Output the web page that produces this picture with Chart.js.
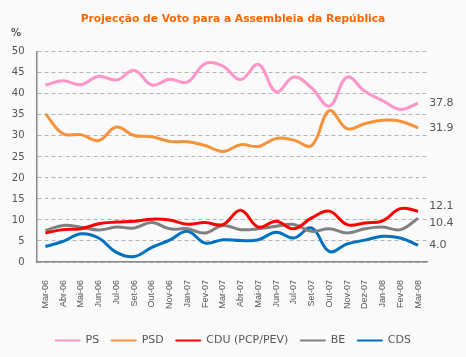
<!DOCTYPE html>
<html>
<head>
<meta charset="utf-8">
<script src="https://cdn.jsdelivr.net/npm/chart.js@4/dist/chart.umd.min.js"></script>
<style>
html,body{margin:0;padding:0;background:#fafafa;}
canvas{display:block;}
</style>
</head>
<body>
<canvas id="c" width="466" height="357"></canvas>
<script>
const categories = ["Mar-06","Abr-06","Mai-06","Jun-06","Jul-06","Set-06","Out-06","Nov-06","Jan-07","Fev-07","Mar-07","Abr-07","Mai-07","Jun-07","Jul-07","Set-07","Out-07","Nov-07","Dez-07","Jan-08","Fev-08","Mar-08"];
const ps  = [42.1,43.1,42.2,44.2,43.3,45.6,42.1,43.5,42.8,47.2,46.6,43.4,47.0,40.5,44.0,41.4,37.1,44.0,40.6,38.4,36.3,37.8];
const psd = [35.3,30.5,30.3,28.9,32.1,30.1,29.8,28.7,28.6,27.7,26.3,27.9,27.5,29.4,29.0,27.7,36.0,31.7,32.9,33.7,33.5,31.9];
const cdu = [6.9,7.7,7.9,9.1,9.5,9.7,10.2,10.0,9.0,9.4,8.9,12.3,8.3,9.7,7.9,10.5,12.1,8.9,9.3,9.8,12.7,12.1];
const be  = [7.5,8.7,8.3,7.6,8.3,8.1,9.4,7.9,7.9,6.9,8.7,7.7,7.9,8.5,8.9,7.3,7.9,6.9,7.9,8.3,7.7,10.4];
const cds = [3.7,4.9,6.7,5.7,2.3,1.3,3.5,5.2,7.3,4.5,5.3,5.1,5.3,7.1,5.7,8.1,2.5,4.3,5.2,6.1,5.7,4.0];
const seriesNames = ["PS","PSD","CDU (PCP/PEV)","BE","CDS"];
const yTicks = [0,5,10,15,20,25,30,35,40,45,50];

const colors = ["#ff94c9","#f7923a","#ff0000","#808080","#0070c0"];
const seriesData = [ps, psd, cdu, be, cds];
const labelNudge = [0, 0, -5, 5, 0];

const endLabels = {
  id: 'endLabels',
  afterDatasetsDraw(chart) {
    const ctx = chart.ctx;
    ctx.save();
    ctx.font = '11px "DejaVu Sans"';
    ctx.fillStyle = '#555';
    ctx.textBaseline = 'middle';
    ctx.textAlign = 'left';
    chart.data.datasets.forEach((ds, i) => {
      const meta = chart.getDatasetMeta(i);
      const pt = meta.data[meta.data.length - 1];
      const v = ds.data[ds.data.length - 1];
      ctx.fillText(v.toFixed(1), pt.x + 11, pt.y + labelNudge[i]);
    });
    ctx.restore();
  }
};
const percentLabel = {
  id: 'percentLabel',
  afterDraw(chart) {
    const ctx = chart.ctx;
    ctx.save();
    ctx.font = 'bold 10px "DejaVu Sans"';
    ctx.fillStyle = '#555';
    ctx.textBaseline = 'middle';
    ctx.textAlign = 'left';
    ctx.fillText('%', 11, 33);
    ctx.restore();
  }
};

new Chart(document.getElementById('c'), {
  type: 'line',
  data: {
    labels: categories,
    datasets: seriesData.map((d, i) => ({
      label: seriesNames[i],
      data: d,
      borderColor: colors[i],
      backgroundColor: colors[i],
      borderWidth: 3,
      pointRadius: 0,
      tension: 0.4,
      fill: false
    }))
  },
  options: {
    responsive: false,
    animation: false,
    layout: { padding: { left: 0, right: 0, top: 0, bottom: 1 } },
    plugins: {
      title: {
        display: true,
        text: 'Projecção de Voto para a Assembleia da República',
        color: '#ff6600',
        font: { family: '"DejaVu Sans"', size: 10.7, weight: 'bold' },
        padding: { top: 13, bottom: 26 }
      },
      legend: {
        position: 'bottom',
        labels: {
          color: '#555',
          font: { family: '"DejaVu Sans"', size: 11 },
          boxWidth: 25,
          boxHeight: 1,
          padding: 12,
          generateLabels(chart) {
            return chart.data.datasets.map((ds, i) => ({
              text: ds.label,
              fillStyle: ds.borderColor,
              strokeStyle: ds.borderColor,
              lineWidth: 1,
              fontColor: '#555',
              datasetIndex: i,
              hidden: false
            }));
          }
        }
      },
      tooltip: { enabled: false }
    },
    scales: {
      x: {
        offset: true,
        grid: { display: false },
        border: { display: true, color: '#888', width: 1.5 },
        ticks: {
          color: '#555',
          font: { family: '"Liberation Sans Narrow", "Liberation Sans"', size: 9 },
          minRotation: 90,
          maxRotation: 90,
          autoSkip: false,
          padding: 10
        },
        afterFit(scale) { scale.height = 61; }
      },
      y: {
        min: 0,
        max: 50,
        afterBuildTicks(scale) { scale.ticks = yTicks.map(v => ({ value: v })); },
        grid: { color: '#b4b4b4', drawTicks: false, lineWidth: 1 },
        border: { display: true, color: '#888', width: 1.5, dash: [4, 3] },
        ticks: {
          color: '#555',
          font: { family: '"DejaVu Sans"', size: 10 },
          padding: 12
        },
        afterFit(scale) { scale.width = 36.5; }
      },
      yRightSpace: {
        position: 'right',
        display: true,
        grid: { display: false },
        border: { display: false },
        ticks: { display: false },
        afterFit(scale) { scale.width = 39; }
      }
    }
  },
  plugins: [endLabels, percentLabel]
});
</script>
</body>
</html>
